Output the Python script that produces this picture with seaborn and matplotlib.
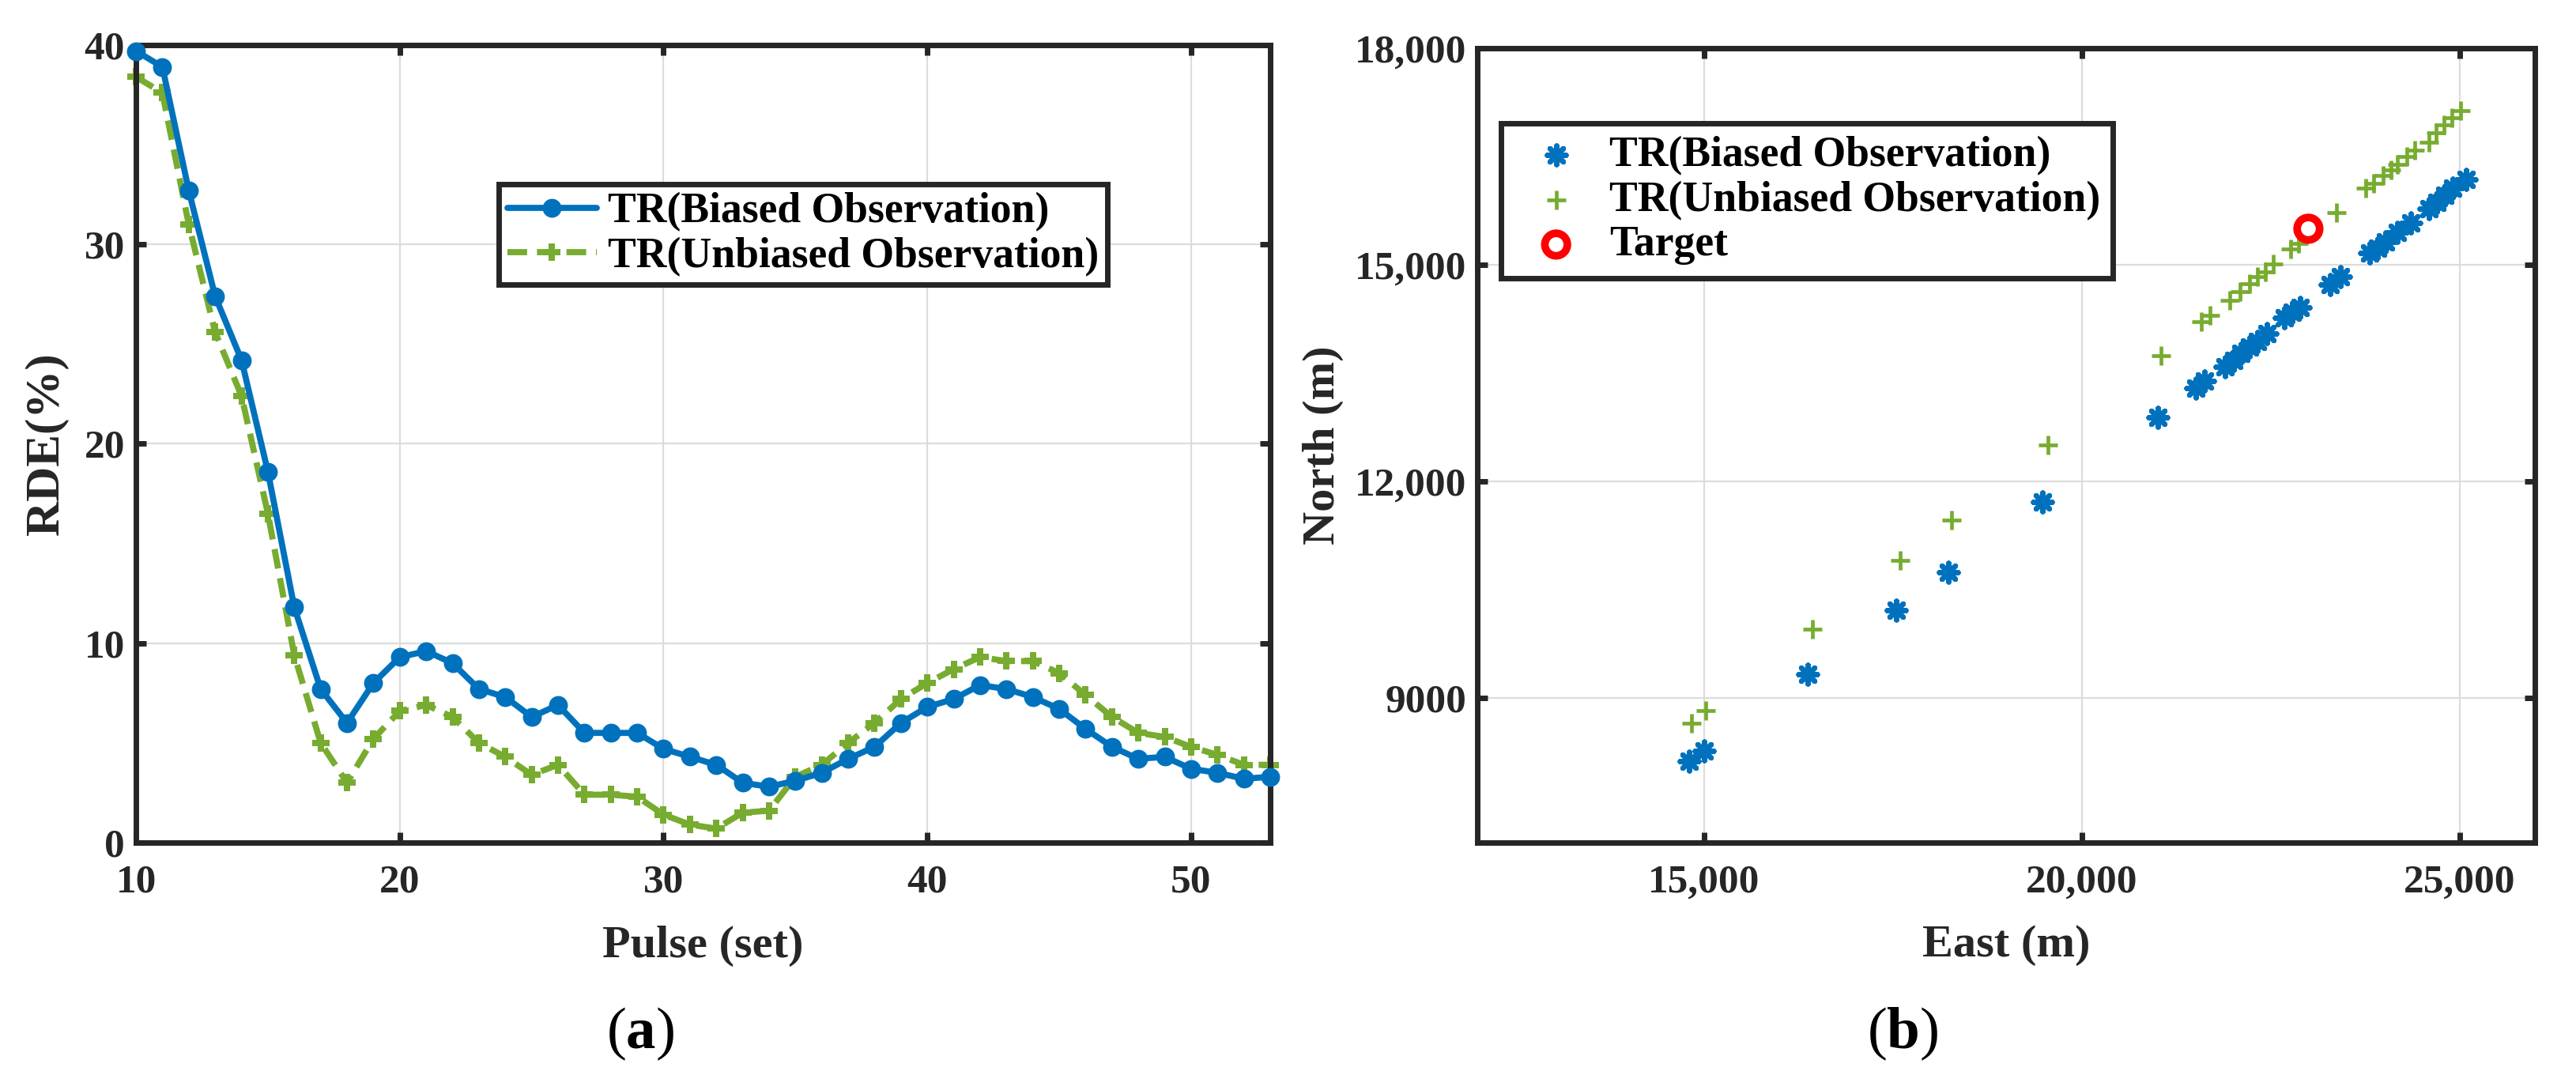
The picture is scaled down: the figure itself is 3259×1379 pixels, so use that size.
import numpy as np
import pandas as pd
import seaborn as sns
import matplotlib.pyplot as plt

# (a) RDE versus pulse number
pulse = [10, 11, 12, 13, 14, 15, 16, 17, 18, 19, 20, 21, 22, 23, 24, 25, 26, 27, 28, 29, 30, 31,
         32, 33, 34, 35, 36, 37, 38, 39, 40, 41, 42, 43, 44, 45, 46, 47, 48, 49, 50, 51, 52, 53]
rde_biased = [39.7, 38.9, 32.7, 27.4, 24.2, 18.6, 11.8, 7.7, 6.0, 8.0,
              9.3, 9.6, 9.0, 7.7, 7.3, 6.3, 6.9, 5.5, 5.5, 5.5,
              4.7, 4.3, 3.9, 3.0, 2.8, 3.1, 3.5, 4.2, 4.8, 6.0,
              6.8, 7.2, 7.9, 7.7, 7.3, 6.7, 5.7, 4.8, 4.2, 4.3,
              3.7, 3.5, 3.2, 3.3]
rde_unbiased = [38.4, 37.6, 31.0, 25.6, 22.4, 16.5, 9.4, 5.0, 3.0, 5.2,
                6.6, 6.9, 6.3, 5.0, 4.3, 3.4, 3.9, 2.4, 2.4, 2.3,
                1.4, 0.9, 0.7, 1.5, 1.6, 3.3, 3.9, 5.0, 6.0, 7.2,
                8.0, 8.7, 9.3, 9.1, 9.1, 8.5, 7.4, 6.3, 5.5, 5.3,
                4.8, 4.4, 3.9, 3.9]

# (b) positions East / North
east_b = [14807, 15000, 16375, 17546, 18233, 19479, 21004, 21510, 21625, 21893, 22008, 22102,
          22224, 22329, 22451, 22678, 22782, 22887, 23287, 23427, 23810, 23915, 24019, 24176,
          24351, 24595, 24700, 24804, 24909, 25084]
north_b = [8125, 8270, 9330, 10216, 10746, 11719, 12884, 13297, 13388, 13590, 13681, 13772,
           13864, 13936, 14046, 14265, 14339, 14412, 14723, 14832, 15161, 15234, 15315, 15454,
           15581, 15783, 15870, 15965, 16057, 16184]
east_u = [14839, 15021, 16439, 17600, 18276, 19554, 21054, 21588, 21699, 21960, 22100, 22222,
          22327, 22431, 22536, 22762, 22867, 23373, 23757, 23862, 23985, 24089, 24176, 24299,
          24404, 24592, 24690, 24796, 24903, 25011]
north_u = [8655, 8829, 9956, 10910, 11468, 12509, 13743, 14211, 14303, 14503, 14632, 14741,
           14832, 14906, 15015, 15216, 15300, 15728, 16057, 16129, 16239, 16312, 16386, 16495,
           16587, 16696, 16830, 16940, 17037, 17133]
target_east = [23000]
target_north = [15500]

xt_b = [15000, 20000, 25000]
xt_b_lab = ['15,000', '20,000', '25,000']
yt_b = [9000, 12000, 15000, 18000]
yt_b_lab = ['9000', '12,000', '15,000', '18,000']

blue = '#0072BD'
green = '#77AC30'
dark = '#262626'

sns.set_theme(style='whitegrid')
plt.rcParams['font.family'] = ['Liberation Serif', 'DejaVu Serif']
plt.rcParams['font.weight'] = 'bold'
plt.rcParams['mathtext.fontset'] = 'custom'
plt.rcParams['mathtext.rm'] = 'Liberation Serif'
plt.rcParams['mathtext.bf'] = 'Liberation Serif:bold'

fig = plt.figure(figsize=(16.295, 6.895), dpi=200)
ax1 = fig.add_axes([0.0528, 0.2270, 0.4403, 0.7317])
ax2 = fig.add_axes([0.5735, 0.2270, 0.4106, 0.7288])

df_a = pd.DataFrame({'pulse': pulse, 'biased': rde_biased, 'unbiased': rde_unbiased})
sns.lineplot(data=df_a, x='pulse', y='biased', ax=ax1, color=blue, linewidth=2.8,
             marker='o', markersize=8.6, markeredgewidth=0, label='TR(Biased Observation)',
             clip_on=False, zorder=3)
sns.lineplot(data=df_a, x='pulse', y='unbiased', ax=ax1, color=green, linewidth=2.8,
             linestyle=(0, (3.2, 1.6)), marker='P', markersize=8.2, markeredgewidth=0,
             label='TR(Unbiased Observation)', clip_on=False, zorder=2)
ax1.set_xlim(10, 53)
ax1.set_ylim(0, 40)
ax1.set_xticks([10, 20, 30, 40, 50])
ax1.set_yticks([0, 10, 20, 30, 40])
ax1.set_xlabel('Pulse (set)', fontsize=21, fontweight='bold', labelpad=11)
ax1.set_ylabel('RDE(%)', fontsize=22, fontweight='bold', labelpad=7)

df_b = pd.DataFrame({'east': east_b, 'north': north_b})
df_u = pd.DataFrame({'east': east_u, 'north': north_u})
df_t = pd.DataFrame({'east': target_east, 'north': target_north})
sns.scatterplot(data=df_b, x='east', y='north', ax=ax2, marker=(8, 2, 0), s=72,
                color=blue, edgecolor=blue, linewidth=2.4, label='TR(Biased Observation)', zorder=3)
sns.scatterplot(data=df_u, x='east', y='north', ax=ax2, marker='+', s=78,
                color=green, linewidth=1.7, label='TR(Unbiased Observation)', zorder=3)
sns.scatterplot(data=df_t, x='east', y='north', ax=ax2, marker='o', s=105,
                facecolor='none', edgecolor='red', linewidth=3.5, label='Target', zorder=4)
ax2.set_xlim(12000, 26000)
ax2.set_ylim(7000, 18000)
ax2.set_xticks(xt_b)
ax2.set_xticklabels(xt_b_lab)
ax2.set_yticks(yt_b)
ax2.set_yticklabels(yt_b_lab)
ax2.set_xlabel('East (m)', fontsize=21, fontweight='bold', labelpad=11)
ax2.set_ylabel('North (m)', fontsize=21, fontweight='bold', labelpad=5)

for ax in (ax1, ax2):
    ax.set_facecolor('white')
    ax.grid(True, color='#dcdcdc', linewidth=0.8)
    ax.set_axisbelow(True)
    for sp in ax.spines.values():
        sp.set_visible(True)
        sp.set_color(dark)
        sp.set_linewidth(2.5)
    ax.tick_params(axis='both', which='both', direction='in', length=4.7, width=2.5,
                   color=dark, labelcolor=dark, labelsize=18.5, top=True, right=True,
                   bottom=True, left=True)
    ax.tick_params(axis='x', pad=10)
    ax.tick_params(axis='y', pad=5)
    for lab in ax.get_xticklabels() + ax.get_yticklabels():
        lab.set_fontweight('bold')
    ax.xaxis.label.set_color(dark)
    ax.yaxis.label.set_color(dark)

leg1 = ax1.legend(loc='upper left', bbox_to_anchor=(0.32, 0.826), fontsize=19.3,
                  frameon=True, fancybox=False, framealpha=1, edgecolor=dark,
                  handlelength=2.1, handletextpad=0.27, borderpad=0.2, labelspacing=0.12,
                  borderaxespad=0)
leg1.get_frame().set_linewidth(2.5)
leg2 = ax2.legend(loc='upper left', bbox_to_anchor=(0.0224, 0.905), fontsize=19.3,
                  frameon=True, fancybox=False, framealpha=1, edgecolor=dark,
                  handlelength=2.0, handletextpad=0.25, borderpad=0.3, labelspacing=0.12,
                  borderaxespad=0)
leg2.get_frame().set_linewidth(2.5)
for leg in (leg1, leg2):
    for t in leg.get_texts():
        t.set_color('black')
        t.set_fontweight('bold')

fig.text(810 / 3259, 1 - 1308 / 1379, r'($\mathbf{a}$)', fontsize=27, ha='center', va='center',
         fontweight='normal', color='black')
fig.text(2407 / 3259, 1 - 1308 / 1379, r'($\mathbf{b}$)', fontsize=27, ha='center', va='center',
         fontweight='normal', color='black')

fig.savefig('out.png', dpi=200, facecolor='white')
